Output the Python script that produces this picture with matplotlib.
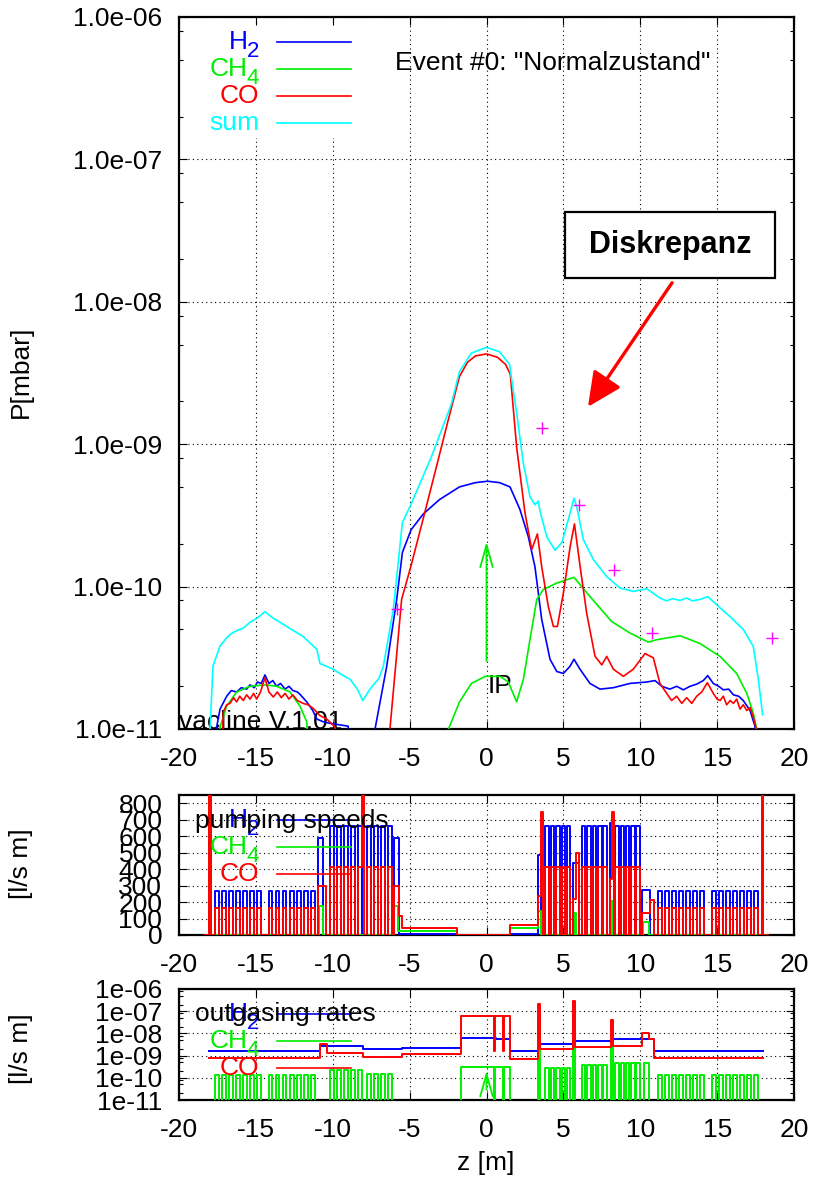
import numpy as np
import matplotlib
matplotlib.use("Agg")
import matplotlib.pyplot as plt
from matplotlib.lines import Line2D
from matplotlib.patches import FancyArrowPatch, Rectangle
from matplotlib.ticker import FixedLocator, FuncFormatter, NullFormatter
from matplotlib import font_manager

plt.rcParams['font.family'] = ['Liberation Sans', 'DejaVu Sans']
plt.rcParams['axes.unicode_minus'] = False

# ---------------- data: pressure profiles (log10 of P in mbar) ----------------
h2_z = [-17.6, -17.55, -17.33, -16.9, -16.6, -16.25, -15.95, -15.6, -15.38, -15.1, -14.9, -14.65, -14.41,
        -14.15, -13.9, -13.65, -13.4, -13.1, -12.85, -12.59, -12.3, -12.1, -11.69, -11.3, -11.04, -10.6,
        -10.18, -9.6, -9.0, -8.8, -7.5, -7.25, -6.49, -5.84, -5.47, -4.9, -4.11, -3.07, -1.76, -0.72,
        0.07, 0.85, 1.53, 2.18, 2.72, 3.15, 3.59, 4.13, 4.57, 5.0, 5.43, 5.69, 6.08, 6.73, 7.38, 8.25,
        9.33, 10.42, 10.96, 11.4, 11.93, 12.37, 12.8, 13.24, 13.67, 14.1, 14.39, 14.75, 15.1, 15.4,
        15.75, 16.06, 16.4, 16.7, 17.14, 17.46, 17.7]
h2_logp = [-11.3, -10.986, -10.86, -10.77, -10.73, -10.74, -10.71, -10.72, -10.69, -10.71, -10.67, -10.68, -10.62,
           -10.68, -10.66, -10.70, -10.68, -10.72, -10.70, -10.73, -10.74, -10.76, -10.81, -10.87, -10.93, -10.95,
           -10.96, -10.97, -10.98, -11.3, -11.3, -11.0, -10.56, -10.09, -9.76, -9.6, -9.49, -9.39, -9.30, -9.27,
           -9.26, -9.27, -9.30, -9.46, -9.65, -9.86, -10.23, -10.51, -10.596, -10.61, -10.56, -10.51, -10.58, -10.68, -10.72, -10.71,
           -10.68, -10.67, -10.66, -10.70, -10.72, -10.70, -10.725, -10.70, -10.685, -10.66, -10.625, -10.68, -10.70, -10.725,
           -10.72, -10.76, -10.77, -10.80, -10.87, -10.98, -11.3]

ch4_z = [-17.4, -17.33, -16.9, -16.25, -15.38, -14.41, -13.65, -12.78, -12.13, -11.69, -11.5,
         -2.6, -2.47, -1.76, -0.98, -0.07, 0.88, 1.42, 1.96, 2.4, 2.83, 3.27, 3.7, 4.57, 5.69, 6.73,
         8.14, 9.33, 10.52, 11.07, 12.59, 13.89, 15.19, 16.27, 16.93, 17.36, 17.57, 17.65]
ch4_logp = [-11.3, -10.986, -10.84, -10.74, -10.70, -10.69, -10.70, -10.74, -10.84, -10.95, -11.3,
            -11.3, -11.0, -10.81, -10.68, -10.63, -10.63, -10.67, -10.81, -10.65, -10.37, -10.09, -10.02, -9.975, -9.935, -10.07,
            -10.245, -10.326, -10.39, -10.373, -10.345, -10.40, -10.49, -10.61, -10.75, -10.89, -11.0, -11.3]

co_z = [-17.25, -17.12, -16.9, -16.68, -16.45, -16.25, -16.05, -15.82, -15.6, -15.38, -15.15, -14.95, -14.7, -14.41,
        -14.15, -13.87, -13.6, -13.35, -13.1, -12.85, -12.6, -12.3, -11.93, -11.6, -11.28, -10.83, -10.39, -9.85, -9.6,
        -6.5, -6.28, -5.52, -4.9, -4.11, -3.33, -2.55, -1.76, -1.24, -0.72, 0.0, 0.72, 1.24, 1.55, 1.96, 2.5, 2.94,
        3.31, 3.59, 4.02, 4.35, 4.61, 5.0, 5.44, 5.72, 6.09, 6.52, 7.06, 7.5, 7.82, 8.25, 8.9, 9.55, 10.31, 10.85,
        11.28, 11.72, 12.04, 12.37, 12.7, 13.02, 13.35, 13.67, 14.0, 14.36, 14.75, 15.0, 15.19, 15.4, 15.62, 15.85,
        16.06, 16.27, 16.49, 16.7, 16.93, 17.15, 17.36, 17.53, 17.6]
co_logp = [-11.3, -10.88, -10.83, -10.82, -10.78, -10.81, -10.77, -10.80, -10.76, -10.79, -10.75, -10.79, -10.74, -10.64,
           -10.74, -10.775, -10.74, -10.78, -10.75, -10.79, -10.76, -10.80, -10.82, -10.83, -10.855, -10.906, -10.93, -10.986, -11.3,
           -11.3, -11.0, -10.09, -9.85, -9.52, -9.19, -8.856, -8.525, -8.425, -8.38, -8.366, -8.39, -8.44, -8.51, -9.02, -9.48, -9.74,
           -9.63, -9.86, -10.14, -10.28, -10.28, -10.045, -9.72, -9.56, -9.86, -10.19, -10.49, -10.55, -10.49, -10.58, -10.63, -10.58, -10.47, -10.50,
           -10.68, -10.75, -10.80, -10.77, -10.82, -10.78, -10.82, -10.77, -10.74, -10.675, -10.75, -10.79, -10.80, -10.77, -10.83, -10.80,
           -10.82, -10.79, -10.86, -10.83, -10.87, -10.85, -10.92, -10.99, -11.3]

sum_z = [-18.0, -17.79, -17.33, -16.9, -16.6, -16.25, -15.8, -15.38, -14.9, -14.41, -13.9, -13.43, -12.7, -11.93,
         -11.04, -10.83, -10.4, -9.98, -9.4, -8.88, -8.4, -8.05, -7.58, -7.0, -6.71, -6.06, -5.47, -4.9, -3.59,
         -2.29, -1.76, -0.98, 0.0, 0.84, 1.5, 1.64, 1.96, 2.39, 2.83, 3.15, 3.37, 3.48, 3.92, 4.46, 4.9, 5.32,
         5.69, 5.87, 6.3, 6.95, 7.82, 8.68, 9.55, 10.42, 11.28, 11.7, 12.1, 12.59, 13.0, 13.4, 13.89, 14.39,
         14.97, 15.4, 15.84, 16.3, 16.7, 17.35, 17.68, 17.96]
sum_logp = [-11.05, -10.558, -10.417, -10.36, -10.33, -10.31, -10.29, -10.25, -10.22, -10.176, -10.22, -10.25, -10.30, -10.35,
            -10.44, -10.54, -10.56, -10.58, -10.62, -10.65, -10.72, -10.80, -10.72, -10.645, -10.56, -10.16, -9.55, -9.42, -9.09,
            -8.72, -8.49, -8.36, -8.32, -8.35, -8.44, -8.547, -8.78, -9.13, -9.37, -9.425, -9.40, -9.47, -9.65, -9.745, -9.69, -9.53,
            -9.378, -9.44, -9.67, -9.81, -9.93, -10.01, -10.034, -10.015, -10.08, -10.10, -10.085, -10.097, -10.08, -10.10, -10.09, -10.07,
            -10.127, -10.17, -10.21, -10.26, -10.30, -10.42, -10.65, -10.9]

meas_z = [-5.82, 3.64, 6.0, 8.29, 10.76, 18.56]
meas_p = [6.97e-11, 1.31e-9, 3.72e-10, 1.31e-10, 4.74e-11, 4.33e-11]

# ---------------- data: pumps (positions of pump boxes, z in m) ----------------
small_pump_z = [-17.66, -17.2, -16.74, -16.28, -15.82, -15.36, -14.9,
                -14.17, -13.71, -13.25, -12.79, -12.33, -11.87, -11.41,
                11.18, 11.64, 12.09, 12.55, 13.0, 13.46, 13.91,
                14.69, 15.15, 15.6, 16.06, 16.51, 16.97, 17.42]
large_pump_z = [-10.18, -9.72, -9.26, -8.8, -8.34, -7.78, -7.32, -6.86, -6.4,
                3.8, 4.17, 4.52, 4.89, 5.21,
                6.19, 6.54, 6.9, 7.25, 7.6,
                8.36, 8.72, 9.05, 9.4, 9.72]
pump_width = 0.24

# pumping speeds [l/s m]
speed_small = {'H2': 265, 'CH4': 0, 'CO': 165}
speed_large = {'H2': 660, 'CH4': 0, 'CO': 415}
h2_speed_extra = [(-10.94, -10.62, 590), (-6.02, -5.70, 590), (-5.70, -1.95, 4), (1.55, 3.37, 4),
                  (3.37, 3.55, 487), (5.65, 6.02, 440), (8.03, 8.28, 683), (10.09, 10.63, 273)]
ch4_speed_extra = [(-18.05, -17.95, 2000), (-10.90, -10.65, 175), (-6.0, -5.75, 175), (-5.75, -1.95, 23),
                   (1.55, 3.37, 45), (3.37, 3.55, 148), (5.7, 5.82, 131), (8.08, 8.2, 208),
                   (10.2, 10.6, 77), (17.9, 18.0, 760)]
co_speed_extra = [(-18.05, -17.95, 2000), (-10.94, -10.45, 300), (-8.12, -7.98, 2000), (-6.02, -5.70, 300),
                  (-5.70, -5.50, 118), (-5.50, -1.95, 41), (1.55, 3.37, 63), (3.37, 3.54, 239), (3.54, 3.65, 744),
                  (5.65, 5.82, 220), (5.82, 6.02, 495), (8.03, 8.14, 342), (8.14, 8.28, 744),
                  (10.09, 10.63, 132), (10.63, 10.89, 214), (17.9, 18.0, 2000)]

# outgassing rates
h2_out = [(-18.04, -10.86, 1.6e-9), (-10.86, -8.03, 2.6e-9), (-8.03, -5.47, 1.9e-9), (-5.47, -1.68, 2.2e-9),
          (-1.68, 0.6, 6.3e-9), (0.6, 1.5, 5.8e-9), (1.5, 3.4, 1.6e-9), (3.4, 5.7, 3.5e-9),
          (5.7, 8.16, 4.7e-9), (8.16, 10.91, 5.8e-9), (10.91, 17.96, 1.6e-9)]
co_out = [(-18.04, -10.86, 8.0e-10), (-10.86, -10.39, 3.5e-9), (-10.39, -8.03, 1.33e-9), (-8.03, -5.47, 8.9e-10),
          (-5.47, -1.68, 1.2e-9), (-1.68, 0.5, 6.4e-8), (0.5, 0.58, 1.6e-9), (0.58, 1.08, 6.4e-8),
          (1.08, 1.14, 1.6e-9), (1.14, 1.5, 6.4e-8), (1.5, 3.38, 7.4e-10), (3.38, 3.5, 2.1e-7),
          (3.5, 5.63, 1.9e-9), (5.63, 5.78, 2.9e-7), (5.78, 8.1, 2.4e-9), (8.1, 8.2, 4.1e-8),
          (8.2, 10.12, 2.8e-9), (10.12, 10.6, 1.05e-8), (10.6, 10.91, 5.6e-9), (10.91, 17.96, 8.0e-10)]
ch4_out_small = 1.3e-10
ch4_out_large = [2.2e-10, 2.2e-10, 2.2e-10, 2.2e-10, 2.2e-10, 1.55e-10, 1.55e-10, 1.55e-10, 1.55e-10,
                 2.9e-10, 2.9e-10, 2.9e-10, 2.9e-10, 2.9e-10,
                 3.8e-10, 3.8e-10, 3.8e-10, 3.8e-10, 3.8e-10,
                 4.5e-10, 4.5e-10, 4.5e-10, 4.5e-10, 4.5e-10]
ch4_out_extra = [(-1.68, 0.5, 3.2e-10), (0.58, 1.08, 3.2e-10), (1.14, 1.55, 3.2e-10), (3.38, 3.48, 2.9e-8),
                 (5.65, 5.75, 3.2e-9), (8.12, 8.2, 4.4e-9), (10.25, 10.6, 4.5e-10)]

x_ticks = [-20, -15, -10, -5, 0, 5, 10, 15, 20]

# ---------------- helpers ----------------
W, H = 813, 1189
FS = 19
FS_SUB = 16
COL = {'H2': '#0000ff', 'CH4': '#00ee00', 'CO': '#ff0000', 'sum': '#00ffff'}


def step_xy(segments, lo=None, hi=None, base=0.0):
    edges = [s[0] for s in segments] + [s[1] for s in segments]
    if lo is not None:
        edges += [lo, hi]
    edges = sorted(set(edges))
    xs, ys = [], []
    for a, b in zip(edges[:-1], edges[1:]):
        mid = 0.5 * (a + b)
        v = base
        for z0, z1, val in segments:
            if z0 <= mid < z1:
                v = val
        if v is None:
            continue
        xs += [a, b]
        ys += [v, v]
    return xs, ys


def fx(px):
    return px / W


def fy(py):
    return 1 - py / H


fig = plt.figure(figsize=(W / 100, H / 100), dpi=100)
ax1 = fig.add_axes([fx(179), fy(729), (794 - 179) / W, (729 - 17) / H])
ax2 = fig.add_axes([fx(179), fy(935), (794 - 179) / W, (935 - 795) / H])
ax3 = fig.add_axes([fx(179), fy(1100), (794 - 179) / W, (1100 - 989) / H])

for ax in (ax1, ax2, ax3):
    ax.set_xlim(-20, 20)
    ax.set_xticks(x_ticks)
    ax.tick_params(which='both', direction='in', top=True, right=True, labelsize=FS, width=0.8)
    ax.tick_params(which='major', length=6, pad=12)
    ax.tick_params(which='minor', length=3)
    ax.tick_params(axis='x', pad=13)
    for sp in ax.spines.values():
        sp.set_linewidth(1.6)
    ax.grid(True, which='major', color='black', lw=0.8, ls=(0, (1, 3)))

# ---------------- main panel ----------------
dec = [1e-11, 1e-10, 1e-9, 1e-8, 1e-7, 1e-6]
minors = [m * d for d in dec[:-1] for m in (2, 5, 8)]
ax1.set_yscale('log')
ax1.set_ylim(1e-11, 1e-6)
ax1.yaxis.set_major_locator(FixedLocator(dec))
ax1.yaxis.set_minor_locator(FixedLocator(minors))
ax1.yaxis.set_minor_formatter(NullFormatter())
ax1.yaxis.set_major_formatter(FuncFormatter(lambda v, p: '1.0e-%02d' % round(-np.log10(v))))

ax1.add_patch(Rectangle((0.014, 0.83), 0.29, 0.158, transform=ax1.transAxes,
                        facecolor='white', edgecolor='none', zorder=1.6))

lw = 1.2
ax1.plot(h2_z, 10.0 ** np.array(h2_logp), color=COL['H2'], lw=lw, zorder=3)
ax1.plot(ch4_z, 10.0 ** np.array(ch4_logp), color=COL['CH4'], lw=lw, zorder=3)
ax1.plot(co_z, 10.0 ** np.array(co_logp), color=COL['CO'], lw=lw, zorder=3)
ax1.plot(sum_z, 10.0 ** np.array(sum_logp), color=COL['sum'], lw=lw, zorder=3)
ax1.plot(meas_z, meas_p, ls='none', marker='+', ms=9, mew=1.0, color='#ff00ff', zorder=3, clip_on=False)

ax1.text(0.0, 0.0, 'vacline V.1.01', transform=ax1.transAxes, ha='left', va='baseline',
         fontsize=FS, zorder=2)
ax1.text(0.05, 2.0e-11, 'IP', ha='left', va='center', fontsize=FS, zorder=2)

for ax in (ax1, ax3):
    ax.add_patch(FancyArrowPatch((0, 3.0e-11), (0, 2.07e-10), arrowstyle='->,head_length=16,head_width=4.5',
                                 mutation_scale=1, color=COL['CH4'], lw=1.3, shrinkA=0, shrinkB=0, zorder=3))

ax1.add_patch(FancyArrowPatch((12.07, 1.36e-8), (6.6, 1.83e-9), arrowstyle='-|>,head_length=21,head_width=10',
                              mutation_scale=1, color='red', lw=2.4, shrinkA=0, shrinkB=0, zorder=4))

ax1.add_patch(Rectangle((0.6276, 0.6338), 0.3415, 0.0927, transform=ax1.transAxes,
                        facecolor='white', edgecolor='black', lw=1.6, zorder=3))
try:
    font_manager.findfont(font_manager.FontProperties(family='Liberation Sans Narrow'), fallback_to_default=False)
    dk = dict(family='Liberation Sans Narrow', fontsize=27)
except Exception:
    dk = dict(family='Liberation Sans', fontsize=22)
ax1.text(0.7983, 0.6802, 'Diskrepanz', transform=ax1.transAxes, ha='center', va='center',
         fontweight='bold', zorder=4, **dk)

fig.text(fx(395), fy(70.5), 'Event #0: "Normalzustand"', ha='left', va='baseline', fontsize=FS)

# ---------------- pumping speeds ----------------
ax2.set_ylim(0, 850)
ax2.set_yticks(list(range(0, 801, 100)))


def pump_segments(species, extra, speed_s, speed_l):
    segs = []
    if speed_s[species] > 0:
        segs += [(z, z + pump_width, speed_s[species]) for z in small_pump_z]
    if speed_l[species] > 0:
        segs += [(z, z + pump_width, speed_l[species]) for z in large_pump_z]
    return segs + extra


for sp, extra in (('H2', h2_speed_extra), ('CH4', ch4_speed_extra), ('CO', co_speed_extra)):
    xs, ys = step_xy(pump_segments(sp, extra, speed_small, speed_large), lo=-18.3, hi=18.3, base=0.0)
    ax2.plot(xs, ys, color=COL[sp], lw=1.4, zorder=3)

# ---------------- outgassing ----------------
ax3.set_yscale('log')
ax3.set_ylim(1e-11, 1e-6)
ax3.yaxis.set_major_locator(FixedLocator(dec))
ax3.yaxis.set_minor_locator(FixedLocator(minors))
ax3.yaxis.set_minor_formatter(NullFormatter())
ax3.yaxis.set_major_formatter(FuncFormatter(lambda v, p: '1e-%02d' % round(-np.log10(v))))

xs, ys = step_xy(h2_out, base=None)
ax3.plot(xs, ys, color=COL['H2'], lw=1.4, zorder=3)
ch4_segs = [(z, z + pump_width, ch4_out_small) for z in small_pump_z]
ch4_segs += [(z, z + pump_width, v) for z, v in zip(large_pump_z, ch4_out_large)]
ch4_segs += ch4_out_extra
xs, ys = step_xy(ch4_segs, lo=-18.04, hi=17.96, base=1e-13)
ax3.plot(xs, ys, color=COL['CH4'], lw=1.4, zorder=3)
xs, ys = step_xy(co_out, base=None)
ax3.plot(xs, ys, color=COL['CO'], lw=1.4, zorder=3)

# ---------------- legends & labels ----------------
entries = [('H', '2', COL['H2']), ('CH', '4', COL['CH4']), ('CO', '', COL['CO']), ('sum', '', COL['sum'])]


def legend(top_px, items):
    for i, (lab, sub, c) in enumerate(items):
        yl = top_px + 24.5 + 27 * i
        if sub:
            fig.text(fx(259), fy(yl + 15.5), sub, color=c, ha='right', va='baseline', fontsize=FS_SUB, zorder=5)
            fig.text(fx(248), fy(yl + 7.5), lab, color=c, ha='right', va='baseline', fontsize=FS, zorder=5)
        else:
            fig.text(fx(259), fy(yl + 7.5), lab, color=c, ha='right', va='baseline', fontsize=FS, zorder=5)
        fig.add_artist(Line2D([fx(277), fx(351)], [fy(yl), fy(yl)], transform=fig.transFigure,
                              color=c, lw=1.2, zorder=5))


legend(17, entries)
legend(795, entries[:3])
legend(989, entries[:3])
fig.text(fx(195), fy(828), 'pumping speeds', ha='left', va='baseline', fontsize=FS, zorder=6)
fig.text(fx(195), fy(1021), 'outgasing rates', ha='left', va='baseline', fontsize=FS, zorder=6)

fig.text(fx(21), fy(372), 'P[mbar]', rotation=90, ha='center', va='center', fontsize=FS)
fig.text(fx(21), fy(864), '[l/s m]', rotation=90, ha='center', va='center', fontsize=FS)
fig.text(fx(21), fy(1049), '[l/s m]', rotation=90, ha='center', va='center', fontsize=FS)
fig.text(fx(486), fy(1163), 'z [m]', ha='center', va='center', fontsize=FS)

fig.savefig('out.png', dpi=100)
